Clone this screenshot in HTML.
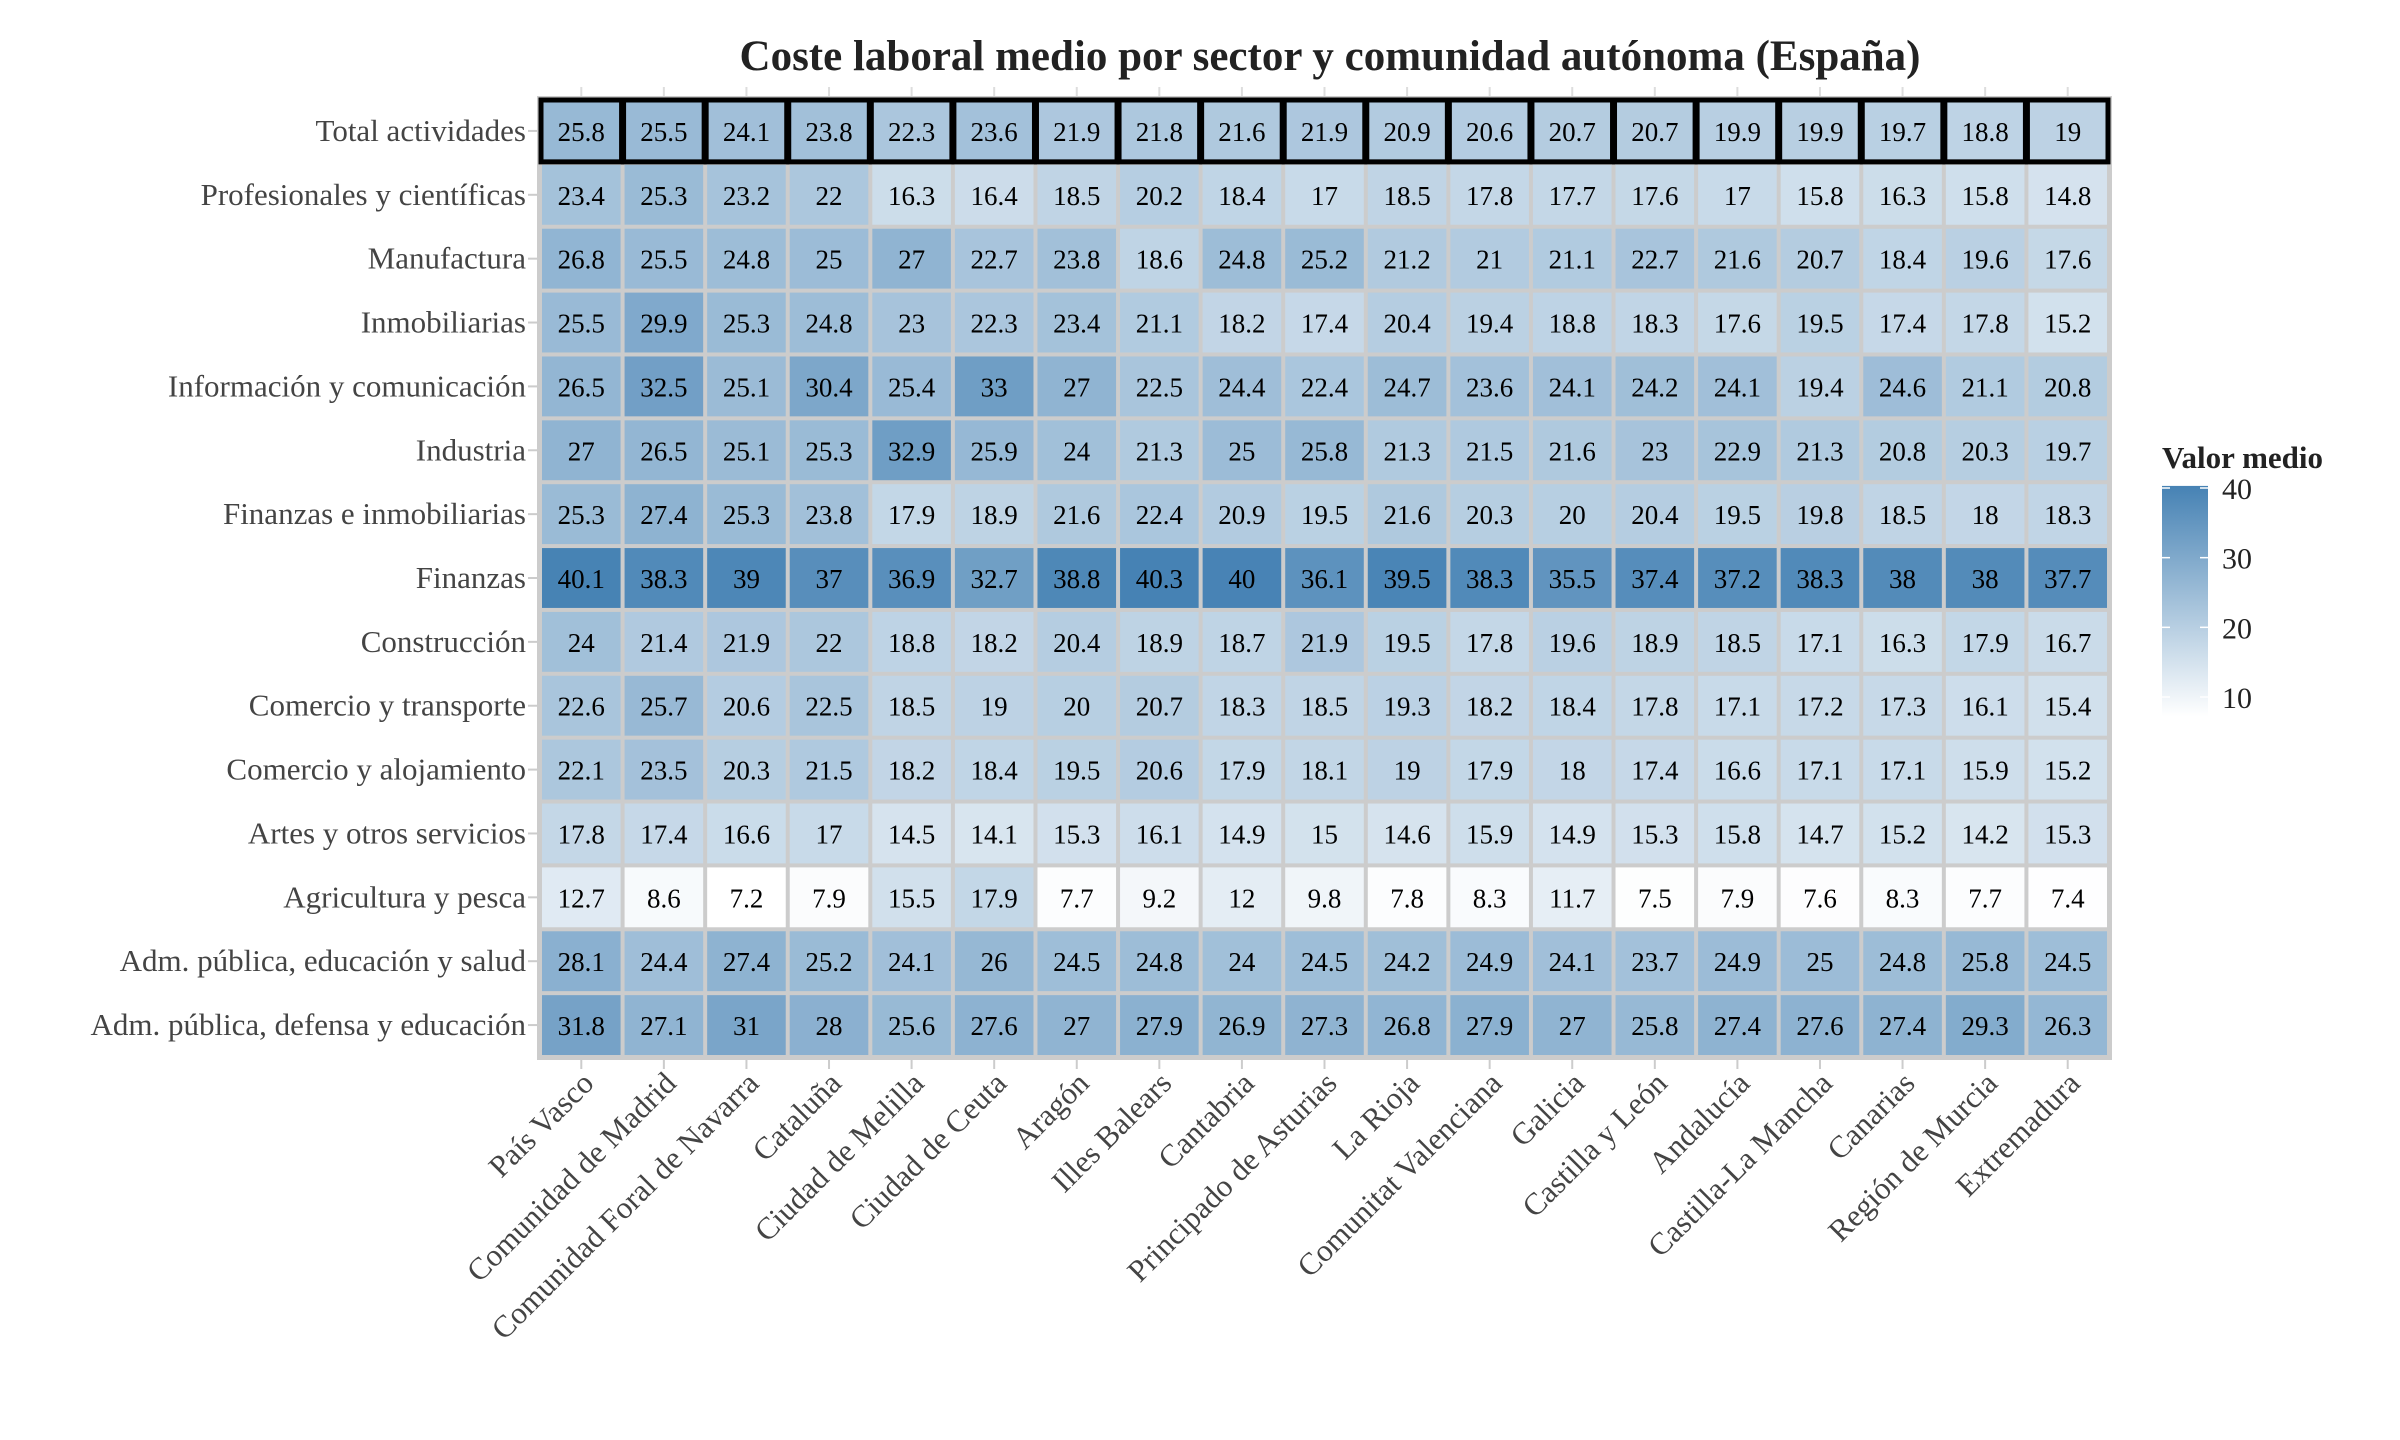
<!DOCTYPE html>
<html><head><meta charset="utf-8"><style>
html,body{margin:0;padding:0;background:#fff;}
svg{display:block;font-family:"Liberation Serif",serif;}
</style></head><body>
<svg id="chart" width="2400" height="1440" viewBox="0 0 2400 1440" xmlns="http://www.w3.org/2000/svg">
<text x="1330" y="70" text-anchor="middle" font-size="43" font-weight="bold" fill="#222" font-family="Liberation Serif, serif">Coste laboral medio por sector y comunidad autónoma (España)</text>
<g id="plot"></g>
<defs><linearGradient id="lg" x1="0" y1="1" x2="0" y2="0"><stop offset="0" stop-color="#ffffff"/><stop offset="1" stop-color="#4682b4"/></linearGradient></defs>
<text x="2162" y="468" font-size="31" font-weight="bold" fill="#222">Valor medio</text>
<g id="legend"></g>
</svg>
<script>
const regions=["País Vasco","Comunidad de Madrid","Comunidad Foral de Navarra","Cataluña","Ciudad de Melilla","Ciudad de Ceuta","Aragón","Illes Balears","Cantabria","Principado de Asturias","La Rioja","Comunitat Valenciana","Galicia","Castilla y León","Andalucía","Castilla-La Mancha","Canarias","Región de Murcia","Extremadura"];
const sectors=["Total actividades","Profesionales y científicas","Manufactura","Inmobiliarias","Información y comunicación","Industria","Finanzas e inmobiliarias","Finanzas","Construcción","Comercio y transporte","Comercio y alojamiento","Artes y otros servicios","Agricultura y pesca","Adm. pública, educación y salud","Adm. pública, defensa y educación"];
const rowTotal=[25.8,25.5,24.1,23.8,22.3,23.6,21.9,21.8,21.6,21.9,20.9,20.6,20.7,20.7,19.9,19.9,19.7,18.8,19];
const rowProf=[23.4,25.3,23.2,22,16.3,16.4,18.5,20.2,18.4,17,18.5,17.8,17.7,17.6,17,15.8,16.3,15.8,14.8];
const rowManu=[26.8,25.5,24.8,25,27,22.7,23.8,18.6,24.8,25.2,21.2,21,21.1,22.7,21.6,20.7,18.4,19.6,17.6];
const rowInmo=[25.5,29.9,25.3,24.8,23,22.3,23.4,21.1,18.2,17.4,20.4,19.4,18.8,18.3,17.6,19.5,17.4,17.8,15.2];
const rowInfo=[26.5,32.5,25.1,30.4,25.4,33,27,22.5,24.4,22.4,24.7,23.6,24.1,24.2,24.1,19.4,24.6,21.1,20.8];
const rowIndu=[27,26.5,25.1,25.3,32.9,25.9,24,21.3,25,25.8,21.3,21.5,21.6,23,22.9,21.3,20.8,20.3,19.7];
const rowFinInm=[25.3,27.4,25.3,23.8,17.9,18.9,21.6,22.4,20.9,19.5,21.6,20.3,20,20.4,19.5,19.8,18.5,18,18.3];
const rowFin=[40.1,38.3,39,37,36.9,32.7,38.8,40.3,40,36.1,39.5,38.3,35.5,37.4,37.2,38.3,38,38,37.7];
const rowCons=[24,21.4,21.9,22,18.8,18.2,20.4,18.9,18.7,21.9,19.5,17.8,19.6,18.9,18.5,17.1,16.3,17.9,16.7];
const rowComTr=[22.6,25.7,20.6,22.5,18.5,19,20,20.7,18.3,18.5,19.3,18.2,18.4,17.8,17.1,17.2,17.3,16.1,15.4];
const rowComAl=[22.1,23.5,20.3,21.5,18.2,18.4,19.5,20.6,17.9,18.1,19,17.9,18,17.4,16.6,17.1,17.1,15.9,15.2];
const rowArtes=[17.8,17.4,16.6,17,14.5,14.1,15.3,16.1,14.9,15,14.6,15.9,14.9,15.3,15.8,14.7,15.2,14.2,15.3];
const rowAgri=[12.7,8.6,7.2,7.9,15.5,17.9,7.7,9.2,12,9.8,7.8,8.3,11.7,7.5,7.9,7.6,8.3,7.7,7.4];
const rowAdmSal=[28.1,24.4,27.4,25.2,24.1,26,24.5,24.8,24,24.5,24.2,24.9,24.1,23.7,24.9,25,24.8,25.8,24.5];
const rowAdmDef=[31.8,27.1,31,28,25.6,27.6,27,27.9,26.9,27.3,26.8,27.9,27,25.8,27.4,27.6,27.4,29.3,26.3];
const values=[rowTotal,rowProf,rowManu,rowInmo,rowInfo,rowIndu,rowFinInm,rowFin,rowCons,rowComTr,rowComAl,rowArtes,rowAgri,rowAdmSal,rowAdmDef];
const legendTicks=[10,20,30,40];

const NS="http://www.w3.org/2000/svg";
const L=540,T=99,W=1569,H=958;
const cw=W/regions.length, rh=H/sectors.length;
const xPos=i=>L+i*cw, yPos=j=>T+j*rh;
const all=values.flat();
const vmin=Math.min(...all), vmax=Math.max(...all);
function color(v){const t=Math.max(0,Math.min(1,(v-vmin)/(vmax-vmin)));
 const r=Math.round(255+t*(70-255)),g=Math.round(255+t*(130-255)),b=Math.round(255+t*(180-255));return `rgb(${r},${g},${b})`;}
function mk(tag,attrs,parent){const e=document.createElementNS(NS,tag);for(const k in attrs)e.setAttribute(k,attrs[k]);parent.appendChild(e);return e;}
const plot=document.getElementById('plot');
const bg=mk('rect',{x:L-3,y:T-3,width:W+6,height:H+6,fill:'#cccccc'},plot);


regions.forEach((r,i)=>{const cx=xPos(i)+cw/2;
 const tk=mk('line',{x1:cx,x2:cx,y1:T+H+3,y2:T+H+12,stroke:'#ccc','stroke-width':2},plot);
 
 
 const tk2=mk('line',{x1:cx,x2:cx,y1:T-12,y2:T-3,stroke:'#ddd','stroke-width':2},plot);
 
 
 const t=mk('text',{x:0,y:0,'font-size':31,fill:'#444','text-anchor':'end',transform:`translate(${cx+14},${T+H+28}) rotate(-45)`},plot);
 t.textContent=r;
 
 
});
sectors.forEach((s,j)=>{const cy=yPos(j)+rh/2;
 const tk=mk('line',{x1:L-12,x2:L-3,y1:cy,y2:cy,stroke:'#ccc','stroke-width':2},plot);
 
 
 const t=mk('text',{x:526,y:cy+10,'font-size':31,fill:'#444','text-anchor':'end'},plot);
 t.textContent=s;
 
 
});
values.forEach((row,j)=>row.forEach((v,i)=>{
 const c=mk('rect',{x:xPos(i)+2,y:yPos(j)+2,width:cw-4,height:rh-4,fill:color(v)},plot);
 
 
}));
regions.forEach((r,i)=>{
 const c=mk('rect',{x:xPos(i)+1,y:yPos(0)+1,width:cw-2,height:rh-2,fill:'none',stroke:'#000','stroke-width':5},plot);
 
 
});
values.forEach((row,j)=>row.forEach((v,i)=>{
 const t=mk('text',{x:xPos(i)+cw/2,y:yPos(j)+rh/2+10,'font-size':27,fill:'#000','text-anchor':'middle'},plot);
 t.textContent=String(v);
 
 
}));
const lg=document.getElementById('legend');
const LT=488,LB=697;
const ly=v=>LB+(v-10)*(LT-LB)/30;
const bar=mk('rect',{x:2162,y:ly(vmax),width:46,height:ly(vmin)-ly(vmax),fill:'url(#lg)'},lg);


legendTicks.forEach(v=>{
 const y=ly(v);
 mk('line',{x1:2162,x2:2170,y1:y,y2:y,stroke:'#fff','stroke-width':1.5},lg);
 mk('line',{x1:2200,x2:2208,y1:y,y2:y,stroke:'#fff','stroke-width':1.5},lg);
 const t=mk('text',{x:2222,y:y+11,'font-size':30,fill:'#222'},lg);
 t.textContent=v;
 
 
});
</script>
</body></html>
